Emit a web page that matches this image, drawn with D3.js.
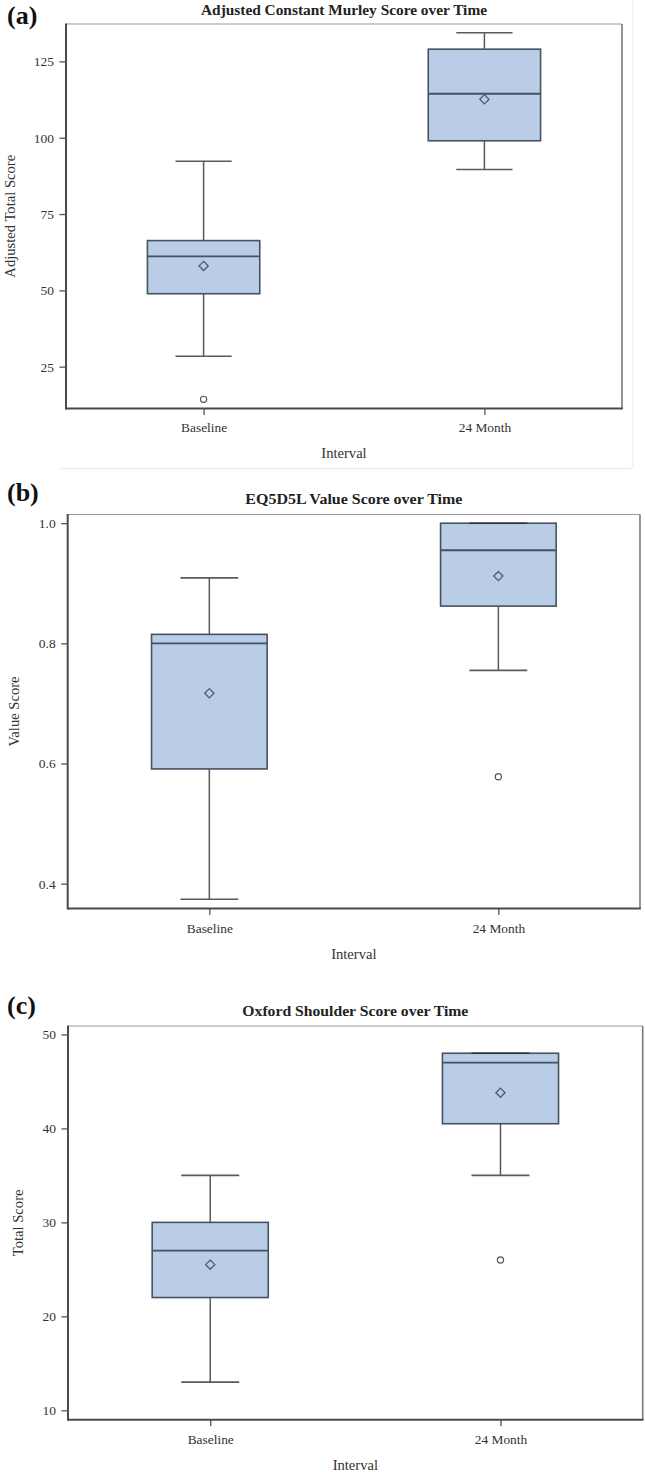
<!DOCTYPE html>
<html><head><meta charset="utf-8">
<script src="https://cdn.jsdelivr.net/npm/d3@7"></script>
<style>
body{margin:0;background:#fff;}
svg{display:block;font-family:"Liberation Serif","Times New Roman",serif;}
</style>
</head><body>
<svg id="chart" width="645" height="1472"></svg>
<script>
// ---------- data ----------
const categories = ["Baseline", "24 Month"];

// (a) Adjusted Constant Murley Score
const murleyTicks   = [25, 50, 75, 100, 125];
const murleyLow     = [28.4, 89.6];
const murleyQ1      = [48.9, 99.0];
const murleyMedian  = [61.1, 114.4];
const murleyQ3      = [66.3, 129.0];
const murleyHigh    = [92.3, 134.4];
const murleyMean    = [58.0, 112.6];
const murleyOutliers = [[14.3], []];

// (b) EQ5D5L Value Score
const eqTicks   = [0.4, 0.6, 0.8, 1.0];
const eqLow     = [0.374, 0.755];
const eqQ1      = [0.591, 0.862];
const eqMedian  = [0.800, 0.955];
const eqQ3      = [0.815, 1.000];
const eqHigh    = [0.909, 1.000];
const eqMean    = [0.717, 0.912];
const eqOutliers = [[], [0.578]];

// (c) Oxford Shoulder Score
const oxTicks   = [10, 20, 30, 40, 50];
const oxLow     = [13, 35];
const oxQ1      = [22, 40.5];
const oxMedian  = [27, 47];
const oxQ3      = [30, 48];
const oxHigh    = [35, 48];
const oxMean    = [25.5, 43.8];
const oxOutliers = [[], [26]];

// ---------- panels (data + layout) ----------
const panels = [
  { tag: "(a)", title: "Adjusted Constant Murley Score over Time", yLabel: "Adjusted Total Score",
    ticks: murleyTicks, fmt: d3.format("d"), domain: [11.3, 137.25],
    low: murleyLow, q1: murleyQ1, med: murleyMedian, q3: murleyQ3, high: murleyHigh, mean: murleyMean, out: murleyOutliers,
    frame: {x0: 66, x1: 622, y0: 24, y1: 408.5}, tagY: 23.5, titleY: 14.5, titleW: 286,
    yLabelX: 15, catY: 432, xLabelY: 457.5 },
  { tag: "(b)", title: "EQ5D5L Value Score over Time", yLabel: "Value Score",
    ticks: eqTicks, fmt: d3.format(".1f"), domain: [0.3587, 1.0145],
    low: eqLow, q1: eqQ1, med: eqMedian, q3: eqQ3, high: eqHigh, mean: eqMean, out: eqOutliers,
    frame: {x0: 67.7, x1: 640, y0: 514.5, y1: 908.5}, tagY: 500.5, titleY: 503.5, titleW: 217,
    yLabelX: 19, catY: 932.5, xLabelY: 958.8 },
  { tag: "(c)", title: "Oxford Shoulder Score over Time", yLabel: "Total Score",
    ticks: oxTicks, fmt: d3.format("d"), domain: [9.0, 50.9],
    low: oxLow, q1: oxQ1, med: oxMedian, q3: oxQ3, high: oxHigh, mean: oxMean, out: oxOutliers,
    frame: {x0: 68, x1: 642.7, y0: 1026, y1: 1419.7}, tagY: 1013.8, titleY: 1015.7, titleW: 226,
    yLabelX: 22.5, catY: 1443.8, xLabelY: 1469.5 }
];

const svg = d3.select("#chart");

// faint border remnants around panel (a)
svg.append("line").attr("x1", 60).attr("x2", 632).attr("y1", 468.5).attr("y2", 468.5)
  .attr("stroke", "#ededed").attr("stroke-width", 1.5);
svg.append("line").attr("x1", 632.5).attr("x2", 632.5).attr("y1", 0).attr("y2", 468)
  .attr("stroke", "#f2f2f2").attr("stroke-width", 1.5);

const boxFill = "#b9cde6", boxStroke = "#46525f", whisk = "#5a5a5a";

panels.forEach(p => {
  const f = p.frame;
  const g = svg.append("g");
  const x = d3.scalePoint().domain(categories).range([f.x0, f.x1]).padding(0.49);
  const y = d3.scaleLinear().domain(p.domain).range([f.y1, f.y0]);
  const step = x.step();
  const boxW = 0.4 * step, capW = 0.2 * step;

  const rows = categories.map((c, i) => ({
    c, low: p.low[i], q1: p.q1[i], med: p.med[i], q3: p.q3[i], high: p.high[i], mean: p.mean[i], out: p.out[i]
  }));

  // whiskers
  rows.forEach(r => {
    const cx = x(r.c);
    g.append("line").attr("x1", cx).attr("x2", cx).attr("y1", y(r.high)).attr("y2", y(r.q3))
      .attr("stroke", whisk).attr("stroke-width", 1.5);
    g.append("line").attr("x1", cx).attr("x2", cx).attr("y1", y(r.q1)).attr("y2", y(r.low))
      .attr("stroke", whisk).attr("stroke-width", 1.5);
  });

  // boxes
  g.selectAll("rect.box").data(rows).join("rect").attr("class", "box")
    .attr("x", d => x(d.c) - boxW / 2).attr("width", boxW)
    .attr("y", d => y(d.q3)).attr("height", d => y(d.q1) - y(d.q3))
    .attr("fill", boxFill).attr("stroke", boxStroke).attr("stroke-width", 1.6);

  // caps (drawn after box so coincident caps show as darker lines)
  rows.forEach(r => {
    const cx = x(r.c);
    [r.high, r.low].forEach(v => {
      g.append("line").attr("x1", cx - capW / 2).attr("x2", cx + capW / 2)
        .attr("y1", y(v)).attr("y2", y(v))
        .attr("stroke", v === r.q3 ? "#333" : whisk).attr("stroke-width", 1.6);
    });
  });

  // medians
  g.selectAll("line.med").data(rows).join("line").attr("class", "med")
    .attr("x1", d => x(d.c) - boxW / 2).attr("x2", d => x(d.c) + boxW / 2)
    .attr("y1", d => y(d.med)).attr("y2", d => y(d.med))
    .attr("stroke", boxStroke).attr("stroke-width", 1.8);

  // means (diamonds)
  g.selectAll("path.mean").data(rows).join("path").attr("class", "mean")
    .attr("d", d => { const cx = x(d.c), cy = y(d.mean), s = 4.6;
      return `M${cx},${cy - s}L${cx + s},${cy}L${cx},${cy + s}L${cx - s},${cy}Z`; })
    .attr("fill", "none").attr("stroke", "#4d5d72").attr("stroke-width", 1.3);

  // outliers
  rows.forEach(r => {
    r.out.forEach(v => {
      g.append("circle").attr("cx", x(r.c)).attr("cy", y(v)).attr("r", 3.1)
        .attr("fill", "#fff").attr("stroke", "#555").attr("stroke-width", 1.2);
    });
  });

  // frame
  g.append("line").attr("x1", f.x0).attr("x2", f.x1).attr("y1", f.y0).attr("y2", f.y0)
    .attr("stroke", "#9a9a9a").attr("stroke-width", 1.2);
  g.append("line").attr("x1", f.x1).attr("x2", f.x1).attr("y1", f.y0).attr("y2", f.y1)
    .attr("stroke", "#7a7a7a").attr("stroke-width", 1.6);
  g.append("line").attr("x1", f.x0).attr("x2", f.x0).attr("y1", f.y0 - 0.6).attr("y2", f.y1 + 1)
    .attr("stroke", "#4a4a4a").attr("stroke-width", 2);
  g.append("line").attr("x1", f.x0).attr("x2", f.x1 + 0.8).attr("y1", f.y1).attr("y2", f.y1)
    .attr("stroke", "#4a4a4a").attr("stroke-width", 2);

  // y axis
  const ya = g.append("g").attr("transform", `translate(${f.x0},0)`)
    .call(d3.axisLeft(y).tickValues(p.ticks).tickFormat(p.fmt).tickSize(6.5).tickPadding(5.5));
  ya.select(".domain").remove();
  ya.selectAll(".tick line").attr("stroke", "#555").attr("stroke-width", 1.3);
  ya.selectAll(".tick text").attr("fill", "#333").style("font-size", "13.5px")
    .style("font-family", "'Liberation Serif', serif");

  // x axis
  const xa = g.append("g").attr("transform", `translate(0,${f.y1})`)
    .call(d3.axisBottom(x).tickSize(6.5).tickPadding(0));
  xa.select(".domain").remove();
  xa.selectAll(".tick line").attr("stroke", "#555").attr("stroke-width", 1.3);
  xa.selectAll(".tick text").attr("fill", "#333").style("font-size", "13.4px")
    .style("font-family", "'Liberation Serif', serif")
    .attr("y", p.catY - f.y1).attr("dy", 0);

  // axis titles
  g.append("text").attr("x", (f.x0 + f.x1) / 2).attr("y", p.xLabelY)
    .attr("text-anchor", "middle").attr("fill", "#333").style("font-size", "14.6px").text("Interval");
  g.append("text").attr("transform", `translate(${p.yLabelX},${(f.y0 + f.y1) / 2}) rotate(-90)`)
    .attr("text-anchor", "middle").attr("fill", "#333").style("font-size", "14.6px").text(p.yLabel);

  // title
  g.append("text").attr("x", (f.x0 + f.x1) / 2).attr("y", p.titleY)
    .attr("text-anchor", "middle").attr("fill", "#222").style("font-size", "15.5px")
    .style("font-weight", "bold").attr("textLength", p.titleW).attr("lengthAdjust", "spacingAndGlyphs")
    .text(p.title);

  // panel tag
  g.append("text").attr("x", 7).attr("y", p.tagY).attr("fill", "#111")
    .style("font-size", "26px").style("font-weight", "bold").text(p.tag);
});
</script>
</body></html>
